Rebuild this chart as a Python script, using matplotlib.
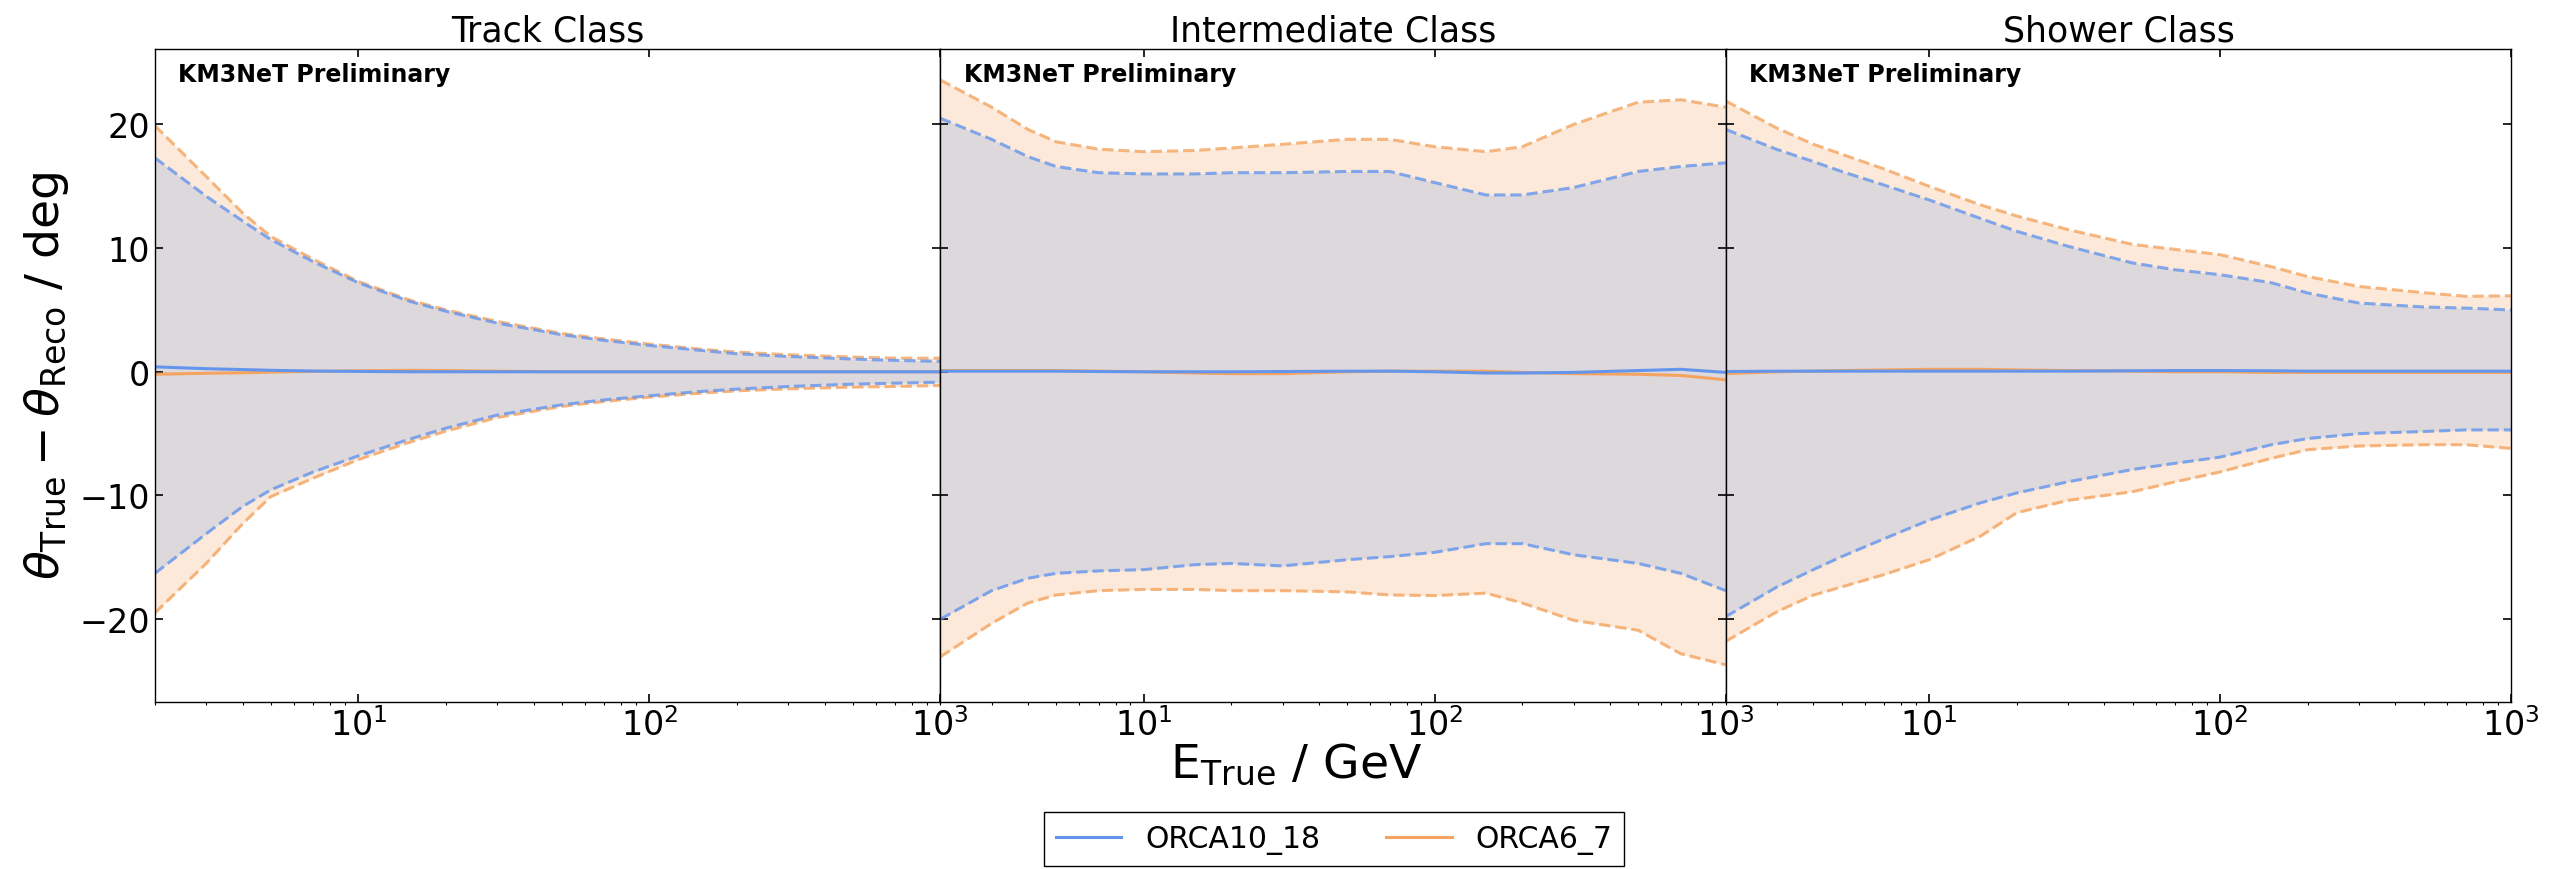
import matplotlib
matplotlib.use("Agg")
import matplotlib.pyplot as plt

# energy grid (GeV) shared by all curves
energy = [2, 3, 4, 5, 7, 10, 15, 20, 30, 50, 70, 100, 150, 200, 300, 500, 700, 1000]

class_names = ["Track Class", "Intermediate Class", "Shower Class"]
series_names = ["ORCA10_18", "ORCA6_7"]

# Track class
track_o10_hi = [17.3, 14.2, 12.2, 10.7, 8.9, 7.2, 5.7, 4.9, 3.94, 3.0, 2.54, 2.13, 1.73, 1.46, 1.24, 1.03, 0.92, 0.84]
track_o10_lo = [-16.3, -13.1, -10.9, -9.55, -8.1, -6.8, -5.45, -4.56, -3.5, -2.67, -2.27, -1.94, -1.59, -1.4, -1.19, -1.0, -0.92, -0.84]
track_o10_med = [0.4, 0.25, 0.18, 0.12, 0.06, 0.03, 0.0, 0.0, 0.0, 0.0, 0.0, 0.0, 0.0, 0.0, 0.0, 0.0, 0.0, 0.0]
track_o6_hi = [19.9, 15.8, 12.85, 10.95, 9.1, 7.3, 5.8, 5.0, 4.07, 3.1, 2.65, 2.24, 1.83, 1.59, 1.38, 1.19, 1.1, 1.1]
track_o6_lo = [-19.5, -15.5, -12.3, -10.1, -8.6, -7.1, -5.7, -4.8, -3.7, -2.8, -2.4, -2.05, -1.73, -1.54, -1.38, -1.24, -1.19, -1.11]
track_o6_med = [-0.2, -0.12, -0.08, -0.03, 0.03, 0.08, 0.12, 0.1, 0.05, 0.0, 0.0, 0.0, 0.0, 0.0, 0.0, 0.0, 0.0, 0.0]

# Intermediate class
inter_o10_hi = [20.5, 18.8, 17.4, 16.6, 16.1, 16.0, 16.0, 16.1, 16.1, 16.2, 16.2, 15.3, 14.3, 14.3, 14.9, 16.2, 16.6, 16.9]
inter_o10_lo = [-20.0, -17.7, -16.7, -16.3, -16.1, -16.0, -15.6, -15.5, -15.7, -15.2, -14.95, -14.6, -13.9, -13.9, -14.8, -15.5, -16.3, -17.7]
inter_o10_med = [0.05, 0.05, 0.05, 0.05, 0.02, 0.0, 0.0, 0.0, 0.02, 0.05, 0.05, 0.0, -0.1, -0.1, -0.05, 0.1, 0.2, -0.05]
inter_o6_hi = [23.6, 21.4, 19.6, 18.6, 18.0, 17.8, 17.9, 18.1, 18.4, 18.8, 18.8, 18.2, 17.8, 18.2, 20.0, 21.8, 22.0, 21.4]
inter_o6_lo = [-23.05, -20.35, -18.7, -18.05, -17.7, -17.6, -17.6, -17.7, -17.7, -17.8, -18.05, -18.1, -17.9, -18.7, -20.1, -20.9, -22.8, -23.7]
inter_o6_med = [0.1, 0.1, 0.1, 0.1, 0.05, 0.0, -0.1, -0.15, -0.15, 0.0, 0.05, 0.05, 0.05, -0.05, -0.15, -0.2, -0.3, -0.65]

# Shower class
shower_o10_hi = [19.6, 17.98, 17.0, 16.2, 15.1, 13.9, 12.4, 11.36, 10.15, 8.8, 8.25, 7.85, 7.2, 6.37, 5.56, 5.24, 5.15, 5.0]
shower_o10_lo = [-19.8, -17.4, -16.0, -14.95, -13.5, -12.0, -10.6, -9.8, -8.9, -7.9, -7.4, -6.9, -5.9, -5.4, -5.0, -4.83, -4.7, -4.7]
shower_o10_med = [0.02, 0.05, 0.05, 0.05, 0.05, 0.05, 0.05, 0.05, 0.05, 0.08, 0.1, 0.1, 0.08, 0.05, 0.05, 0.05, 0.05, 0.05]
shower_o6_hi = [21.9, 19.7, 18.4, 17.6, 16.4, 15.0, 13.5, 12.6, 11.5, 10.3, 9.9, 9.47, 8.5, 7.7, 6.9, 6.4, 6.1, 6.15]
shower_o6_lo = [-21.8, -19.4, -18.06, -17.4, -16.4, -15.2, -13.3, -11.4, -10.4, -9.7, -8.9, -8.1, -7.0, -6.3, -6.0, -5.9, -5.9, -6.2]
shower_o6_med = [-0.15, 0.0, 0.05, 0.1, 0.15, 0.2, 0.2, 0.15, 0.1, 0.05, 0.0, 0.0, -0.05, -0.05, -0.05, -0.05, -0.05, -0.05]

panels = [
    (track_o10_hi, track_o10_lo, track_o10_med, track_o6_hi, track_o6_lo, track_o6_med),
    (inter_o10_hi, inter_o10_lo, inter_o10_med, inter_o6_hi, inter_o6_lo, inter_o6_med),
    (shower_o10_hi, shower_o10_lo, shower_o10_med, shower_o6_hi, shower_o6_lo, shower_o6_med),
]

blue = "cornflowerblue"
orange = "sandybrown"

fig, axes = plt.subplots(1, 3, figsize=(25.52, 8.7), dpi=100, sharey=True)
fig.subplots_adjust(left=0.0607, right=0.984, top=0.9425, bottom=0.192, wspace=0)

for ax, name, data in zip(axes, class_names, panels):
    b_hi, b_lo, b_med, o_hi, o_lo, o_med = data
    ax.fill_between(energy, o_lo, o_hi, color=orange, alpha=0.24, lw=0)
    ax.fill_between(energy, b_lo, b_hi, color=blue, alpha=0.2, lw=0)
    ax.plot(energy, o_hi, "--", color=orange, lw=2.2, alpha=0.8)
    ax.plot(energy, o_lo, "--", color=orange, lw=2.2, alpha=0.8)
    ax.plot(energy, b_hi, "--", color=blue, lw=2.2, alpha=0.8)
    ax.plot(energy, b_lo, "--", color=blue, lw=2.2, alpha=0.8)
    l_o, = ax.plot(energy, o_med, color=orange, lw=2.2, label=series_names[1])
    l_b, = ax.plot(energy, b_med, color=blue, lw=2.2, label=series_names[0])

    ax.set_xscale("log")
    ax.set_xlim(2, 1000)
    ax.set_ylim(-26.7, 26.1)
    ax.set_title(name, fontsize=25)
    ax.text(0.03, 0.98, "KM3NeT Preliminary", transform=ax.transAxes,
            fontsize=17, fontweight="bold", va="top", ha="left")
    ax.tick_params(which="major", direction="in", top=True, right=True,
                   length=5.5, width=1.2, labelsize=24)
    ax.tick_params(which="minor", length=2.5, width=0.8)
    for sp in ax.spines.values():
        sp.set_linewidth(1.0)

axes[0].set_yticks([-20, -10, 0, 10, 20])
axes[0].set_ylabel(r"$\theta_{\mathrm{True}} - \theta_{\mathrm{Reco}}$ / deg", fontsize=34, labelpad=6)
fig.text(0.508, 0.121, r"E$_{\mathrm{True}}$ / GeV", fontsize=34, ha="center", va="center")

fig.legend([l_b, l_o], series_names, loc="upper center",
           bbox_to_anchor=(0.5227, 0.0655), ncol=2, fontsize=21.5,
           fancybox=False, edgecolor="black", framealpha=1,
           borderaxespad=0, handlelength=2.2, columnspacing=2.2)

fig.savefig("out.png", dpi=100)
